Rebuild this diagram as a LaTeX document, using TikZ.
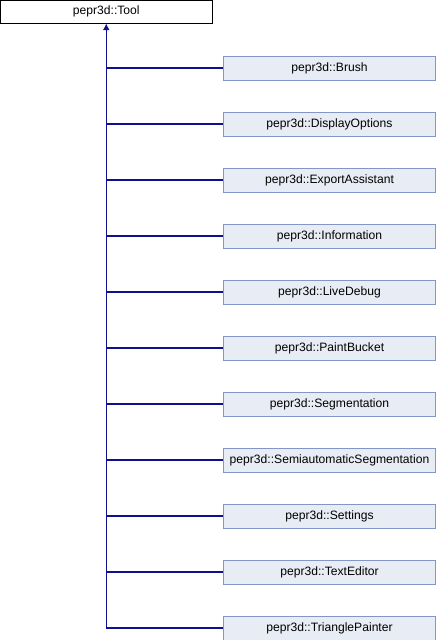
\documentclass[tikz,border=0pt]{standalone}
\usepackage{fontspec}
\setmainfont{Liberation Sans}
\usetikzlibrary{arrows.meta,positioning}
\definecolor{edgeblue}{RGB}{16,16,140}
\definecolor{boxfill}{RGB}{232,236,244}
\definecolor{boxline}{RGB}{132,150,200}
\tikzset{
  base/.style={rectangle,draw=black,fill=white,minimum width=159pt,minimum height=17pt,inner sep=0pt,font=\fontsize{9.1}{10}\selectfont},
  derived/.style={rectangle,draw=boxline,fill=boxfill,minimum width=159pt,minimum height=18pt,inner sep=0pt,font=\fontsize{9.1}{10}\selectfont},
  inherit/.style={draw=edgeblue,line width=0.8pt}
}
\begin{document}
\begin{tikzpicture}[x=0.75pt,y=-0.75pt]
\useasboundingbox (0,0) rectangle (436,640);
%base class
\node[base](tool)at(106.25,11.75){pepr3d::Tool};
%derived classes
\foreach \i/\name in {1/Brush,2/DisplayOptions,3/ExportAssistant,4/Information,5/LiveDebug,6/PaintBucket,7/Segmentation,8/SemiautomaticSegmentation,9/Settings,10/TextEditor,11/TrianglePainter}{
\node[derived](c\i)at(329.5,12+56*\i){pepr3d::\name};
\draw[inherit](tool.south |- c\i.west)--(c\i.west);
}
%trunk with arrow
\draw[inherit,-{Latex[length=5pt,width=5pt]}](tool.south |- c11.west)--(tool.south);
\end{tikzpicture}
\end{document}
